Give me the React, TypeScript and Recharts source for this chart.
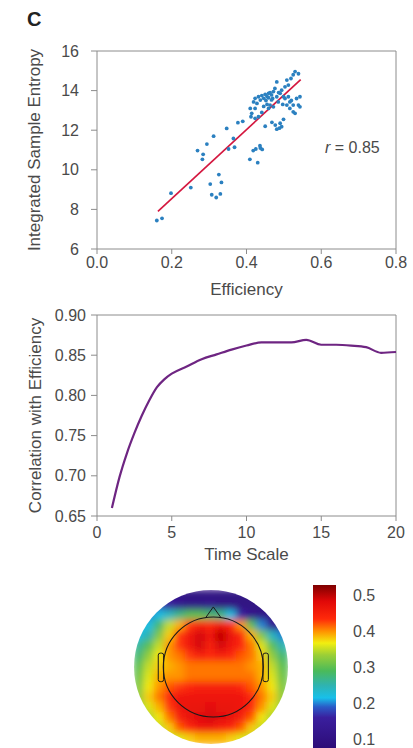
import {
  ScatterChart, Scatter, LineChart, Line, BarChart, Bar, XAxis, YAxis,
  ReferenceLine, ReferenceDot, ReferenceArea,
} from 'recharts';

// panel 1: efficiency vs integrated sample entropy
const EFFICIENCY = [
  0.160, 0.174, 0.198, 0.251, 0.269, 0.282, 0.284, 0.294, 0.303, 0.307,
  0.312, 0.319, 0.326, 0.330, 0.333, 0.347, 0.352, 0.365, 0.368, 0.377,
  0.390, 0.409, 0.418, 0.425, 0.430, 0.436, 0.442, 0.437,
  0.410, 0.414, 0.412, 0.419, 0.423, 0.423, 0.423, 0.428, 0.432, 0.432,
  0.437, 0.441, 0.446, 0.450, 0.450, 0.455, 0.459, 0.459, 0.459, 0.463,
  0.467, 0.467, 0.468, 0.472, 0.472, 0.476, 0.477, 0.481, 0.481, 0.481,
  0.485, 0.488, 0.490, 0.490, 0.494, 0.494, 0.499, 0.499, 0.503, 0.503,
  0.508, 0.508, 0.512, 0.512, 0.516, 0.516, 0.519, 0.525, 0.525, 0.525,
  0.530, 0.530, 0.534, 0.539, 0.539, 0.543, 0.543, 0.446, 0.452, 0.463,
  0.470, 0.486, 0.497, 0.520, 0.441, 0.455,
];
const ENTROPY = [
  7.44, 7.55, 8.82, 9.10, 10.97, 10.53, 10.78, 11.30, 9.28, 8.74,
  11.70, 8.60, 9.76, 8.78, 9.36, 12.09, 11.05, 11.58, 11.14, 12.38,
  12.45, 10.53, 10.97, 11.05, 10.36, 11.22, 11.03, 11.10,
  13.10, 12.85, 12.68, 13.43, 13.61, 13.10, 12.60, 13.35, 13.69, 12.68,
  13.52, 13.75, 13.61, 13.81, 12.20, 13.70, 13.86, 13.64, 13.10, 13.27,
  13.78, 13.53, 12.40, 13.95, 13.18, 14.11, 12.26, 14.44, 13.69, 12.05,
  13.43, 12.10, 13.86, 12.35, 14.02, 12.18, 13.69, 12.55, 14.19, 13.60,
  14.53, 13.27, 14.28, 13.69, 13.43, 13.10, 14.61, 14.80, 13.27, 12.93,
  14.96, 12.85, 13.60, 13.27, 14.85, 13.69, 13.18, 13.20, 13.50, 13.90,
  13.60, 13.90, 13.30, 13.50, 12.90, 13.30,
];
const FIT_LINE = [{ x: 0.163, y: 7.9 }, { x: 0.545, y: 14.56 }];
const EFF_TICKS = [0, 0.2, 0.4, 0.6, 0.8];
const ENTROPY_TICKS = [6, 8, 10, 12, 14, 16];

// panel 2: correlation vs time scale
const TIME_SCALE = [1, 1.5, 2, 2.5, 3, 3.5, 4, 4.5, 5, 6, 7, 8, 9, 10, 11, 12, 13, 14, 15, 16, 17, 18, 19, 20];
const CORRELATION = [
  0.660, 0.698, 0.728, 0.753, 0.775, 0.794, 0.810, 0.820, 0.827,
  0.836, 0.845, 0.851, 0.857, 0.862, 0.866, 0.866, 0.866, 0.869, 0.863,
  0.863, 0.862, 0.860, 0.853, 0.854,
];
const TIME_TICKS = [0, 5, 10, 15, 20];
const CORR_TICKS = [0.65, 0.7, 0.75, 0.8, 0.85, 0.9];

// panel 3: scalp map, rows top to bottom
const HEAT_X = [-0.933, -0.8, -0.667, -0.533, -0.4, -0.267, -0.133, 0, 0.133, 0.267, 0.4, 0.533, 0.667, 0.8, 0.933];
const HEAT_Y = [0.933, 0.8, 0.667, 0.533, 0.4, 0.267, 0.133, 0, -0.133, -0.267, -0.4, -0.533, -0.667, -0.8, -0.933];
const HEAT_VALUES = [
  [0.15, 0.14, 0.13, 0.12, 0.11, 0.10, 0.10, 0.10, 0.10, 0.10, 0.10, 0.10, 0.11, 0.12, 0.13],
  [0.20, 0.19, 0.18, 0.16, 0.13, 0.11, 0.11, 0.12, 0.10, 0.10, 0.10, 0.10, 0.10, 0.10, 0.11],
  [0.20, 0.20, 0.22, 0.24, 0.27, 0.30, 0.30, 0.28, 0.27, 0.22, 0.16, 0.12, 0.11, 0.11, 0.12],
  [0.22, 0.22, 0.28, 0.35, 0.39, 0.43, 0.45, 0.44, 0.46, 0.44, 0.40, 0.30, 0.20, 0.13, 0.13],
  [0.22, 0.25, 0.32, 0.38, 0.43, 0.46, 0.49, 0.46, 0.50, 0.47, 0.44, 0.39, 0.32, 0.24, 0.20],
  [0.26, 0.30, 0.35, 0.40, 0.43, 0.46, 0.49, 0.45, 0.49, 0.46, 0.44, 0.41, 0.36, 0.30, 0.25],
  [0.28, 0.33, 0.37, 0.40, 0.41, 0.43, 0.45, 0.44, 0.45, 0.44, 0.42, 0.41, 0.38, 0.33, 0.28],
  [0.30, 0.35, 0.38, 0.39, 0.40, 0.41, 0.41, 0.41, 0.41, 0.41, 0.41, 0.40, 0.39, 0.35, 0.30],
  [0.31, 0.36, 0.39, 0.40, 0.40, 0.41, 0.41, 0.41, 0.41, 0.41, 0.41, 0.41, 0.39, 0.36, 0.31],
  [0.32, 0.37, 0.40, 0.42, 0.43, 0.44, 0.45, 0.45, 0.45, 0.45, 0.44, 0.42, 0.40, 0.37, 0.32],
  [0.33, 0.38, 0.41, 0.44, 0.46, 0.46, 0.46, 0.46, 0.46, 0.46, 0.46, 0.44, 0.41, 0.38, 0.33],
  [0.33, 0.36, 0.39, 0.43, 0.46, 0.47, 0.47, 0.48, 0.47, 0.47, 0.46, 0.44, 0.40, 0.36, 0.33],
  [0.34, 0.34, 0.37, 0.41, 0.45, 0.47, 0.48, 0.49, 0.48, 0.47, 0.45, 0.42, 0.37, 0.34, 0.34],
  [0.35, 0.35, 0.35, 0.38, 0.42, 0.44, 0.46, 0.46, 0.45, 0.44, 0.42, 0.38, 0.35, 0.35, 0.35],
  [0.34, 0.34, 0.34, 0.35, 0.36, 0.38, 0.39, 0.39, 0.39, 0.38, 0.36, 0.35, 0.34, 0.34, 0.34],
];
const HEAD_CENTER = [{ x: 0.03, y: 0 }];
const COLORBAR_RANGE = [0.075, 0.53];
const COLORBAR_TICKS = [0.1, 0.2, 0.3, 0.4, 0.5];
const JET_STOPS: [number, string][] = [
  [0.075, '#2d0c78'], [0.16, '#3a1f9e'], [0.19, '#2a5cc8'], [0.215, '#18c0ea'],
  [0.25, '#2fb3b0'], [0.29, '#4aba5a'], [0.335, '#9ccf36'], [0.368, '#f2ee10'],
  [0.40, '#ff9400'], [0.435, '#ff2a0a'], [0.485, '#e00808'], [0.53, '#7e0000'],
];

const scatterData = EFFICIENCY.map((x, i) => ({ x, y: ENTROPY[i] }));
const lineData = TIME_SCALE.map((t, i) => ({ t, r: CORRELATION[i] }));
const heatData = HEAT_Y.flatMap((y, r) => HEAT_X.map((x, c) => ({ x, y, v: HEAT_VALUES[r][c] })));
const colorbarData = [{ name: 'scale', range: COLORBAR_RANGE }];

const AXIS = '#8c8c8c';
const TEXT = '#4a4a4a';
const OUTLINE = '#1a1a1a';
const tickStyle = { fill: TEXT, fontSize: 16 };

function hexToRgb(h: string) {
  return [1, 3, 5].map((i) => parseInt(h.slice(i, i + 2), 16));
}

function jetColor(v: number) {
  for (let i = 1; i < JET_STOPS.length; i++) {
    const [v1, c1] = JET_STOPS[i];
    const [v0, c0] = JET_STOPS[i - 1];
    if (v <= v1) {
      const t = Math.max(0, (v - v0) / (v1 - v0));
      const a = hexToRgb(c0);
      const b = hexToRgb(c1);
      return `rgb(${a.map((k, j) => Math.round(k + (b[j] - k) * t)).join(',')})`;
    }
  }
  return JET_STOPS[JET_STOPS.length - 1][1];
}

function EntropyPanel() {
  return (
    <ScatterChart width={413} height={310} margin={{ top: 51, right: 17, bottom: 31, left: 7 }}>
      <XAxis
        type="number" dataKey="x" domain={[0, 0.8]} ticks={EFF_TICKS}
        tickFormatter={(v: number) => v.toFixed(1)} height={30}
        stroke={AXIS} tick={tickStyle} tickSize={5} tickMargin={3}
        label={{ value: 'Efficiency', position: 'bottom', offset: 4, fill: TEXT, fontSize: 17 }}
      />
      <YAxis
        type="number" dataKey="y" domain={[6, 16]} ticks={ENTROPY_TICKS} width={90}
        stroke={AXIS} tick={tickStyle} tickSize={6} tickMargin={12}
        label={{
          value: 'Integrated Sample Entropy', angle: -90, position: 'insideLeft', offset: 27,
          fill: TEXT, fontSize: 17, style: { textAnchor: 'middle' },
        }}
      />
      <ReferenceLine y={16} stroke={AXIS} />
      <ReferenceLine x={0.8} stroke={AXIS} />
      <Scatter
        data={scatterData} isAnimationActive={false}
        shape={(p: any) => <circle cx={p.cx} cy={p.cy} r={1.9} fill="#2b80c0" />}
      />
      <ReferenceLine segment={FIT_LINE} stroke="#d4173f" strokeWidth={1.7} />
    </ScatterChart>
  );
}

function CorrelationPanel() {
  return (
    <LineChart width={413} height={275} data={lineData} margin={{ top: 15, right: 17, bottom: 29, left: 7 }}>
      <XAxis
        type="number" dataKey="t" domain={[0, 20]} ticks={TIME_TICKS} height={30}
        stroke={AXIS} tick={tickStyle} tickSize={5} tickMargin={6}
        label={{ value: 'Time Scale', position: 'bottom', offset: 2, fill: TEXT, fontSize: 17 }}
      />
      <YAxis
        type="number" domain={[0.65, 0.9]} ticks={CORR_TICKS} width={90}
        tickFormatter={(v: number) => v.toFixed(2)}
        stroke={AXIS} tick={tickStyle} tickSize={6} tickMargin={5}
        label={{
          value: 'Correlation with Efficiency', angle: -90, position: 'insideLeft', offset: 28,
          fill: TEXT, fontSize: 17, style: { textAnchor: 'middle' },
        }}
      />
      <ReferenceLine y={0.9} stroke={AXIS} />
      <ReferenceLine x={20} stroke={AXIS} />
      <Line
        type="monotone" dataKey="r" stroke="#6e2582" strokeWidth={2.2}
        dot={false} isAnimationActive={false}
      />
    </LineChart>
  );
}

function ScalpMap() {
  return (
    <ScatterChart width={154} height={154} margin={{ top: 0, right: 0, bottom: 0, left: 0 }}>
      <defs>
        <filter id="heatBlur" x="-10%" y="-10%" width="120%" height="120%">
          <feGaussianBlur stdDeviation="3.6" edgeMode="duplicate" />
        </filter>
      </defs>
      <XAxis type="number" dataKey="x" domain={[-1, 1]} hide />
      <YAxis type="number" dataKey="y" domain={[-1, 1]} hide />
      <Scatter
        data={heatData} isAnimationActive={false} className="heat-cells"
        shape={(p: any) => (
          <rect x={p.cx - 6} y={p.cy - 6} width={12} height={12} fill={jetColor(p.payload.v)} />
        )}
      />
    </ScatterChart>
  );
}

// head outline drawn in its own chart on top of the map
function HeadOutline() {
  return (
    <ScatterChart width={154} height={154} margin={{ top: 0, right: 0, bottom: 0, left: 0 }}>
      <XAxis type="number" dataKey="x" domain={[-1, 1]} hide />
      <YAxis type="number" dataKey="y" domain={[-1, 1]} hide />
      <Scatter data={HEAD_CENTER} isAnimationActive={false} shape={() => <g />} />
      <ReferenceArea x1={-0.685} x2={-0.615} y1={-0.19} y2={0.18} fill="none" stroke={OUTLINE} strokeWidth={1} radius={2} />
      <ReferenceArea x1={0.675} x2={0.745} y1={-0.19} y2={0.18} fill="none" stroke={OUTLINE} strokeWidth={1} radius={2} />
      <ReferenceLine segment={[{ x: -0.07, y: 0.64 }, { x: 0.03, y: 0.78 }]} stroke={OUTLINE} strokeWidth={1} />
      <ReferenceLine segment={[{ x: 0.03, y: 0.78 }, { x: 0.13, y: 0.64 }]} stroke={OUTLINE} strokeWidth={1} />
      <ReferenceDot x={0.03} y={0} r={50} fill="none" stroke={OUTLINE} strokeWidth={1.1} />
    </ScatterChart>
  );
}

function ColorBar() {
  const [lo, hi] = COLORBAR_RANGE;
  return (
    <BarChart width={100} height={163} data={colorbarData} margin={{ top: 0, right: 0, bottom: 0, left: 0 }} barCategoryGap={0}>
      <defs>
        <linearGradient id="jet" x1="0" y1="1" x2="0" y2="0">
          {JET_STOPS.map(([v, c]) => (
            <stop key={v} offset={(v - lo) / (hi - lo)} stopColor={c} />
          ))}
        </linearGradient>
      </defs>
      <XAxis dataKey="name" hide />
      <YAxis
        orientation="right" type="number" domain={COLORBAR_RANGE} ticks={COLORBAR_TICKS}
        tickFormatter={(v: number) => v.toFixed(1)} width={77} interval={0}
        axisLine={false} tickLine={false} tickSize={0} tickMargin={17}
        tick={tickStyle} allowDataOverflow
      />
      <Bar dataKey="range" fill="url(#jet)" isAnimationActive={false} />
    </BarChart>
  );
}

export default function App() {
  return (
    <div style={{ position: 'relative', width: 413, height: 748, background: '#fff', fontFamily: '"Liberation Sans", Arial, sans-serif', overflow: 'hidden' }}>
      <style>{`body{margin:0} .heat-cells, .scalp .recharts-scatter{filter:url(#heatBlur)}`}</style>
      <div style={{ position: 'absolute', left: 27, top: 8, fontSize: 20, fontWeight: 'bold', color: '#222' }}>C</div>
      <div style={{ position: 'absolute', left: 0, top: 0 }}>
        <EntropyPanel />
      </div>
      <div style={{ position: 'absolute', left: 325, top: 139, fontSize: 16, lineHeight: '18px', color: TEXT }}>
        <i>r</i> = 0.85
      </div>
      <div style={{ position: 'absolute', left: 0, top: 300 }}>
        <CorrelationPanel />
      </div>
      <div className="scalp" style={{ position: 'absolute', left: 134, top: 590, width: 154, height: 154, borderRadius: '50%', overflow: 'hidden' }}>
        <ScalpMap />
      </div>
      <div style={{ position: 'absolute', left: 134, top: 590 }}>
        <HeadOutline />
      </div>
      <div style={{ position: 'absolute', left: 313, top: 585 }}>
        <ColorBar />
      </div>
    </div>
  );
}
